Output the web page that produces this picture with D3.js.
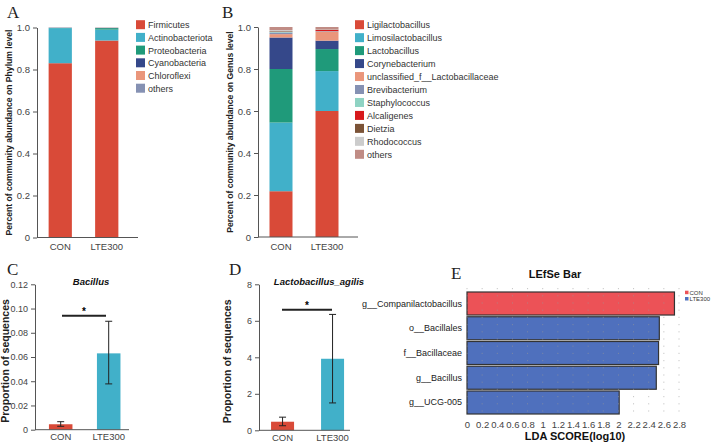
<!DOCTYPE html>
<html><head><meta charset="utf-8">
<script src="https://cdn.jsdelivr.net/npm/d3@7"></script>
<style>
body{margin:0;background:#fff;}
svg{display:block;font-family:"Liberation Sans",Arial,sans-serif;}
</style></head>
<body><svg id="c" width="714" height="442"></svg>
<script>
// ---------- DATA ----------
const groups = ["CON","LTE300"];
const phylaNames = ["Firmicutes","Actinobacteriota","Proteobacteria","Cyanobacteria","Chloroflexi","others"];
const phylaCON =    [0.830,0.167,0.001,0.001,0.0005,0.0005];
const phylaLTE300 = [0.938,0.052,0.007,0.001,0.001,0.001];
const phylaColors = ["#d94a38","#41b0c9","#1f9a7a","#35488a","#ea967b","#8591b3"];

const genusNames = ["Ligilactobacillus","Limosilactobacillus","Lactobacillus","Corynebacterium","unclassified_f__Lactobacillaceae","Brevibacterium","Staphylococcus","Alcaligenes","Dietzia","Rhodococcus","others"];
const genusCON =    [0.218,0.327,0.255,0.150,0.016,0.008,0.004,0.001,0.002,0.004,0.015];
const genusLTE300 = [0.600,0.190,0.105,0.040,0.042,0.002,0.001,0.006,0.001,0.001,0.012];
const genusColors = ["#d94a38","#41b0c9","#1f9a7a","#35488a","#ea967b","#8591b3","#8fd3c3","#d7191c","#7b5337","#cccccc","#c08c85"];

const barColors = ["#d94a38","#41b0c9"];
const bacillusMean = [0.0045,0.063];
const bacillusLow  = [0.0028,0.0378];
const bacillusHigh = [0.0066,0.0895];
const bacillusTicks = [0,0.02,0.04,0.06,0.08,0.10,0.12];

const agilisMean = [0.47,3.92];
const agilisLow  = [0.25,1.50];
const agilisHigh = [0.72,6.35];
const agilisTicks = [0,2,4,6,8];

const lefseNames  = ["g__Companilactobacillus","o__Bacillales","f__Bacillaceae","g__Bacillus","g__UCG-005"];
const lefseScores = [2.74,2.54,2.53,2.50,2.01];
const lefseGroup  = ["CON","LTE300","LTE300","LTE300","LTE300"];
const lefseColors = {CON:"#ec5257",LTE300:"#4f70bd"};
const ldaTicks = [0,0.2,0.4,0.6,0.8,1,1.2,1.4,1.6,1.8,2,2.2,2.4,2.6,2.8];

// ---------- DRAW ----------
const svg = d3.select("#c");
const axisCol = "#555";

function panelLetter(t,x,y){
  svg.append("text").attr("x",x).attr("y",y).text(t)
    .attr("font-family","'Liberation Serif','Times New Roman',serif")
    .attr("font-size",17).attr("fill","#222");
}
function styleAxis(g,fs){
  g.selectAll("path,line").attr("stroke",axisCol);
  g.selectAll("text").attr("fill","#444").attr("font-size",fs||9.5).attr("font-family","'Liberation Sans',Arial,sans-serif");
}
function yLabel(txt,x,yc,size){
  svg.append("text").attr("transform",`translate(${x},${yc}) rotate(-90)`)
    .attr("text-anchor","middle").attr("font-weight","bold").attr("font-size",size)
    .attr("fill","#222").text(txt);
}

function stacked(cfg){
  const y = d3.scaleLinear().domain([0,1]).range([cfg.y0,cfg.y1]);
  const x = d3.scaleBand().domain(groups).range([cfg.x0,cfg.x1]).paddingInner(0.5).paddingOuter(0.25);
  const rows = groups.map((g,i)=>{const o={group:g}; cfg.names.forEach((n,j)=>o[n]=cfg.vals[i][j]); return o;});
  const series = d3.stack().keys(cfg.names)(rows);
  const gBars = svg.append("g");
  series.forEach((s,k)=>{
    gBars.selectAll(null).data(s).join("rect")
      .attr("x",d=>x(d.data.group)).attr("width",x.bandwidth())
      .attr("y",d=>y(d[1])).attr("height",d=>Math.max(0,y(d[0])-y(d[1])))
      .attr("fill",cfg.colors[k]);
  });
  const ya = svg.append("g").attr("transform",`translate(${cfg.axisX},0)`)
    .call(d3.axisLeft(y).tickValues([0,0.2,0.4,0.6,0.8,1.0]).tickFormat(d=>d===0?"0":d3.format(".1f")(d)).tickSize(4).tickSizeOuter(0));
  styleAxis(ya);
  const xa = svg.append("g").attr("transform",`translate(0,${cfg.y0})`)
    .call(d3.axisBottom(x).tickSize(0).tickPadding(6));
  xa.select(".domain").attr("d",`M${cfg.axisX},0H${cfg.x1+8}`);
  styleAxis(xa);
  yLabel(cfg.ylab,cfg.labX,(cfg.y0+cfg.y1)/2,8.6);
  const lg = svg.append("g");
  cfg.names.forEach((n,i)=>{
    const yy = cfg.legY + i*cfg.legStep;
    lg.append("rect").attr("x",cfg.legX).attr("y",yy-4.5).attr("width",9).attr("height",9).attr("fill",cfg.colors[i]);
    lg.append("text").attr("x",cfg.legX+12).attr("y",yy+3.5).attr("font-size",9).attr("fill","#333").text(n);
  });
}

panelLetter("A",7,18);
stacked({names:phylaNames,vals:[phylaCON,phylaLTE300],colors:phylaColors,
  x0:37,x1:130,axisX:37,y0:237.5,y1:27.5,ylab:"Percent of community abundance on Phylum level",labX:12,
  legX:136,legY:24.7,legStep:12.7});
panelLetter("B",222,18);
stacked({names:genusNames,vals:[genusCON,genusLTE300],colors:genusColors,
  x0:258,x1:350,axisX:258,y0:237,y1:27,ylab:"Percent of community abundance on Genus level",labX:233,
  legX:355,legY:24.7,legStep:12.96});

function errPanel(cfg){
  const y = d3.scaleLinear().domain([0,cfg.max]).range([cfg.y0,cfg.y1]);
  const x = d3.scaleBand().domain(groups).range([cfg.axisX,cfg.x1])
    .paddingInner(cfg.pi).paddingOuter(cfg.po).align(cfg.al);
  const xl = d => x(d)+x.bandwidth()/2;
  svg.append("g").selectAll("rect").data(groups).join("rect")
    .attr("x",d=>x(d)).attr("width",x.bandwidth())
    .attr("y",(d,i)=>y(cfg.mean[i])).attr("height",(d,i)=>cfg.y0-y(cfg.mean[i]))
    .attr("fill",(d,i)=>barColors[i]);
  const eg = svg.append("g").attr("stroke","#222").attr("stroke-width",1);
  groups.forEach((g,i)=>{
    const cx = xl(g);
    eg.append("line").attr("x1",cx).attr("x2",cx).attr("y1",y(cfg.lo[i])).attr("y2",y(cfg.hi[i]));
    eg.append("line").attr("x1",cx-3.5).attr("x2",cx+3.5).attr("y1",y(cfg.lo[i])).attr("y2",y(cfg.lo[i]));
    eg.append("line").attr("x1",cx-3.5).attr("x2",cx+3.5).attr("y1",y(cfg.hi[i])).attr("y2",y(cfg.hi[i]));
  });
  const ya = svg.append("g").attr("transform",`translate(${cfg.axisX},0)`)
    .call(d3.axisLeft(y).tickValues(cfg.ticks).tickFormat(cfg.fmt).tickSize(4).tickSizeOuter(0));
  styleAxis(ya,9);
  const xa = svg.append("g").attr("transform",`translate(0,${cfg.y0})`)
    .call(d3.axisBottom(x).tickSize(0).tickPadding(4));
  xa.select(".domain").attr("d",`M${cfg.axisX},0H${cfg.x1}`);
  styleAxis(xa);
  svg.append("line").attr("x1",cfg.sigX0).attr("x2",cfg.sigX1).attr("y1",y(cfg.sigY)).attr("y2",y(cfg.sigY))
    .attr("stroke","#222").attr("stroke-width",2);
  svg.append("text").attr("x",(cfg.sigX0+cfg.sigX1)/2).attr("y",y(cfg.sigY)-1).attr("text-anchor","middle")
    .attr("font-size",10).attr("font-weight","bold").text("*");
  svg.append("text").attr("x",cfg.titleX).attr("y",cfg.titleY).attr("text-anchor","middle")
    .attr("font-size",9.5).attr("font-weight","bold").attr("font-style","italic").attr("fill","#111").text(cfg.title);
  yLabel("Proportion of sequences",cfg.labX,(cfg.y0+cfg.y1)/2+4,10.5);
}

panelLetter("C",7,275);
errPanel({max:0.12,y0:429.7,y1:284.3,axisX:35,x1:129,pi:0.51,po:0.234,al:0.62,
  mean:bacillusMean,lo:bacillusLow,hi:bacillusHigh,
  ticks:bacillusTicks,fmt:d=>d===0?"0":d3.format(".2f")(d),sigX0:62,sigX1:106,sigY:0.094,
  title:"Bacillus",titleX:91,titleY:285,labX:9});
panelLetter("D",229,275);
errPanel({max:8,y0:430.3,y1:284.3,axisX:259,x1:350,pi:0.54,po:0.18,al:0.67,
  mean:agilisMean,lo:agilisLow,hi:agilisHigh,
  ticks:agilisTicks,fmt:d3.format("d"),sigX0:282,sigX1:332,sigY:6.6,
  title:"Lactobacillus_agilis",titleX:319,titleY:285,labX:231});

// ---------- LEfSe ----------
panelLetter("E",451,279);
svg.append("text").attr("x",555).attr("y",278).attr("text-anchor","middle").attr("font-weight","bold")
  .attr("font-size",11).attr("fill","#111").text("LEfSe Bar");
const lx = d3.scaleLinear().domain([0,2.8]).range([467,679]);
const ly = d3.scaleBand().domain(lefseNames).range([292,414]).paddingInner(0.07).paddingOuter(0.0);
svg.append("g").selectAll("rect").data(lefseNames).join("rect")
  .attr("x",lx(0)).attr("y",d=>ly(d)).attr("height",ly.bandwidth())
  .attr("width",(d,i)=>lx(lefseScores[i])-lx(0))
  .attr("fill",(d,i)=>lefseColors[lefseGroup[i]]).attr("stroke","#333").attr("stroke-width",1.2);
const gg = svg.append("g");
ldaTicks.forEach(t=>{
  gg.append("line").attr("x1",lx(t)).attr("x2",lx(t)).attr("y1",288).attr("y2",414)
    .attr("stroke","#999").attr("stroke-opacity",0.55).attr("stroke-width",1).attr("stroke-dasharray","1.2,6");
});
svg.append("g").selectAll("text").data(lefseNames).join("text")
  .attr("x",462).attr("y",d=>ly(d)+ly.bandwidth()/2+3).attr("text-anchor","end")
  .attr("font-size",9).attr("fill","#222").text(d=>d);
const la = svg.append("g").attr("transform","translate(0,417)")
  .call(d3.axisBottom(lx).tickValues(ldaTicks).tickFormat(d=>d3.format("")(+d.toFixed(1))).tickSize(0).tickPadding(4));
la.select(".domain").remove();
styleAxis(la);
svg.append("text").attr("x",575).attr("y",440).attr("text-anchor","middle").attr("font-weight","bold")
  .attr("font-size",11).attr("fill","#111").text("LDA SCORE(log10)");
[["CON",292.5],["LTE300",298.8]].forEach(([k,yy])=>{
  svg.append("rect").attr("x",685).attr("y",yy-1.8).attr("width",3.5).attr("height",3.5).attr("fill",lefseColors[k]);
  svg.append("text").attr("x",689.5).attr("y",yy+2.1).attr("font-size",6).attr("fill","#333").text(k);
});
</script></body></html>
